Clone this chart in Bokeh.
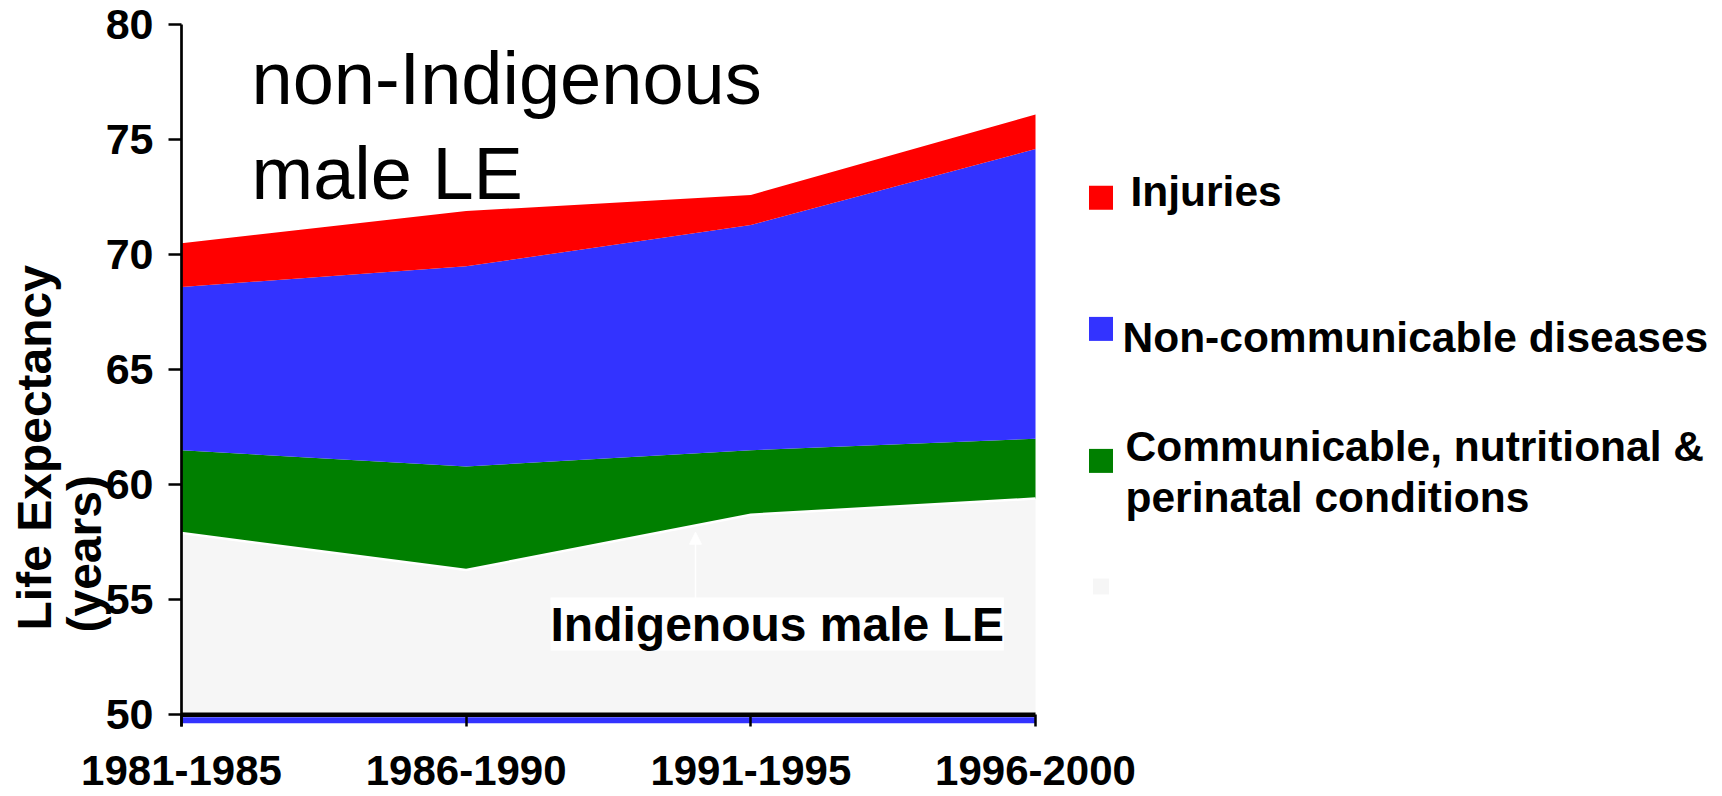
import numpy as np
from bokeh.plotting import figure
from bokeh.models import Range1d, FixedTicker, Label, Arrow, NormalHead
from bokeh.core.properties import value
from bokeh.embed import file_html
from bokeh.resources import INLINE

# ---- data ----
categories = ["1981-1985", "1986-1990", "1991-1995", "1996-2000"]
indigenous_le = [57.9, 56.3, 58.7, 59.4]          # Indigenous male life expectancy
communicable = [3.6, 4.5, 2.8, 2.6]              # gap: communicable, nutritional & perinatal
noncommunicable = [7.1, 8.7, 9.8, 12.6]          # gap: non-communicable diseases
injuries = [1.9, 2.4, 1.3, 1.5]                  # gap: injuries
y_ticks = [50, 55, 60, 65, 70, 75, 80]
legend_names = ["Injuries", "Non-communicable diseases",
                "Communicable, nutritional &", "perinatal conditions"]

RED, BLUE, GREEN, GRAY = "#ff0000", "#3333ff", "#007f00", "#f6f6f6"
FONT_NAME = "Liberation Sans"
FONT = value(FONT_NAME)

W, H = 1722, 796
# page-pixel layout helpers (layout only)
X0, DX = 181.0, 284.67      # pixel of first category, pixels per category step
Y80, DY = 24.3, 23.0        # pixel of y=80, pixels per year


def dx(px):
    return (px - X0) / DX


def dy(py):
    return y_ticks[-1] - (py - Y80) / DY


xs = np.arange(len(categories), dtype=float)
base = np.full(len(categories), float(y_ticks[0]))
t0 = np.array(indigenous_le)
t1 = t0 + np.array(communicable)
t2 = t1 + np.array(noncommunicable)
t3 = t2 + np.array(injuries)

p = figure(width=W, height=H, output_backend="svg", toolbar_location=None,
           title=None, x_range=Range1d(dx(0), dx(W)), y_range=Range1d(dy(H), dy(0)),
           min_border_left=0, min_border_top=0, min_border_right=0,
           min_border_bottom=0)
p.outline_line_color = None
p.grid.visible = False
p.background_fill_color = "white"
p.border_fill_color = "white"

# stacked areas
p.varea(x=xs, y1=base, y2=t0, fill_color=GRAY)
p.varea(x=xs, y1=t0, y2=t1, fill_color=GREEN)
p.varea(x=xs, y1=t1, y2=t2, fill_color=BLUE)
p.varea(x=xs, y1=t2, y2=t3, fill_color=RED)
p.line(x=xs, y=t0, line_color="white", line_width=2.5)

# thin blue strip under the base line, and the base line itself
p.varea(x=xs, y1=np.full(len(xs), dy(722.7)), y2=np.full(len(xs), dy(716.8)),
        fill_color=BLUE)
p.segment(x0=[xs[0]], y0=[y_ticks[0]], x1=[xs[-1]], y1=[y_ticks[0]],
          line_color="black", line_width=4.5)

# axes (fixed inside the full-canvas frame)
frame_bottom = dy(726)
xa = p.xaxis[0]
xa.fixed_location = frame_bottom
xa.bounds = (float(xs[0]), float(xs[-1]))
xa.ticker = FixedTicker(ticks=list(range(len(categories))))
xa.major_label_overrides = {i: c for i, c in enumerate(categories)}
xa.axis_line_color = None
xa.major_tick_in = 12
xa.major_tick_out = 0
xa.major_tick_line_width = 2.5
xa.minor_tick_line_color = None
xa.major_label_standoff = 29
xa.major_label_text_font = FONT_NAME
xa.major_label_text_font_style = "bold"
xa.major_label_text_font_size = "42px"
xa.major_label_text_color = "black"

ya = p.yaxis[0]
ya.fixed_location = 0
ya.bounds = (frame_bottom, y_ticks[-1])
ya.ticker = FixedTicker(ticks=y_ticks)
ya.axis_line_width = 2.7
ya.axis_line_color = "black"
ya.major_tick_in = 0
ya.major_tick_out = 13
ya.major_tick_line_width = 2.5
ya.minor_tick_line_color = None
ya.major_label_standoff = 15
ya.major_label_text_font = FONT_NAME
ya.major_label_text_font_style = "bold"
ya.major_label_text_font_size = "43px"
ya.major_label_text_color = "black"

# y-axis title (two rotated lines, both starting at the bottom)
p.text(x=[dx(7.7), dx(57.0)], y=[dy(630), dy(632)],
       text=["Life Expectancy", "(years)"], angle=np.pi / 2,
       text_font=FONT, text_font_style="bold", text_font_size="48px",
       text_align="left", text_baseline="top", text_color="black")

# big title inside plot
p.text(x=[dx(251), dx(251)], y=[dy(36.0), dy(131.0)],
       text=["non-Indigenous", "male LE"], text_font=FONT,
       text_font_size="74px", text_align="left", text_baseline="top",
       text_color="black")

# arrow and Indigenous label
p.add_layout(Arrow(end=NormalHead(size=12, fill_color="white", line_color="white"),
                   x_start=dx(695), y_start=dy(600), x_end=dx(695), y_end=dy(531.7),
                   line_color="white", line_width=1.5))
p.add_layout(Label(x=dx(550), y=dy(597), text="Indigenous male LE", text_font=FONT_NAME,
                   text_font_style="bold", text_font_size="48px",
                   text_align="left", text_baseline="top", text_color="black",
                   background_fill_color="white"))

# legend (drawn as glyphs to the right of the areas)
sq_x = [dx(1100.5)] * 4
sq_y = [dy(197.3), dy(328.4), dy(460.4), dy(586.0)]
sq_size = [24, 24, 24, 16]
p.rect(x=sq_x, y=sq_y, width=sq_size, height=sq_size, width_units="screen",
       height_units="screen", fill_color=[RED, BLUE, GREEN, GRAY], line_color=None)
p.text(x=[dx(1130), dx(1122), dx(1125), dx(1125)],
       y=[dy(167), dy(313.7), dy(422), dy(473.7)],
       text=legend_names, text_font=FONT, text_font_style="bold",
       text_font_size="42.5px", text_align="left", text_baseline="top",
       text_color="black")

open("out.html", "w").write(file_html(p, INLINE))
